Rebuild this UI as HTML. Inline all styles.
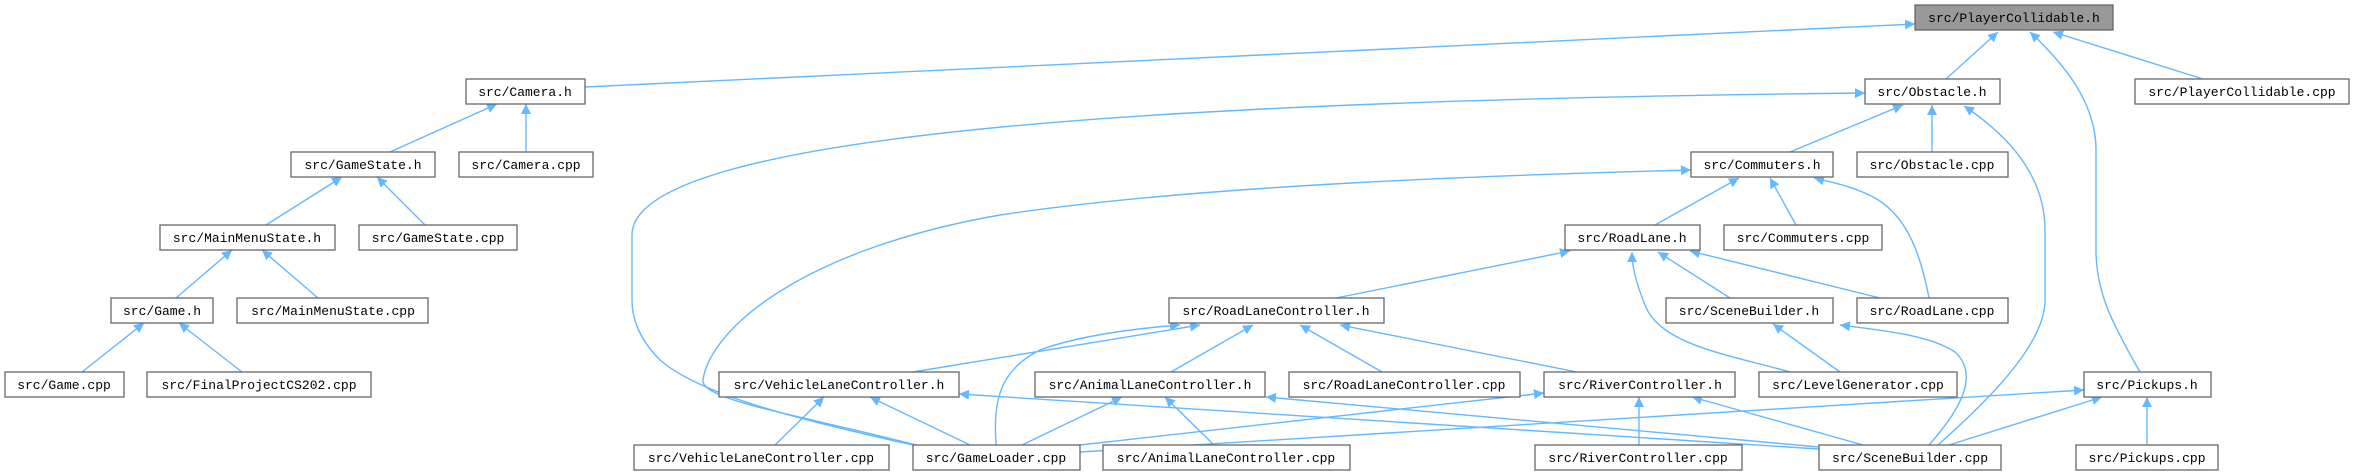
<!DOCTYPE html>
<html><head><meta charset="utf-8"><style>
html,body{margin:0;padding:0;background:#fff;}
svg{display:block}
text{font-family:"Liberation Mono","DejaVu Sans Mono",monospace;font-size:13px;fill:#000}
rect{fill:#fff;stroke:#666;stroke-width:1.3}
.e{fill:none;stroke:#63b8ff;stroke-width:1.4}
</style></head><body>
<svg width="2355" height="476" viewBox="0 0 2355 476" xmlns="http://www.w3.org/2000/svg">
<defs><marker id="a" viewBox="0 0 10 10" refX="10" refY="5" markerWidth="10" markerHeight="10" markerUnits="userSpaceOnUse" orient="auto"><path d="M0,0 L10,5 L0,10 z" fill="#63b8ff"/></marker></defs>
<g class="e" marker-end="url(#a)">
<path d="M585,87 L1915,24" marker-end="url(#a)"/>
<path d="M390,152 L497,104" marker-end="url(#a)"/>
<path d="M526,152 L526,104" marker-end="url(#a)"/>
<path d="M266,225 L342,177" marker-end="url(#a)"/>
<path d="M425,225 L377,177" marker-end="url(#a)"/>
<path d="M176,298 L232,250" marker-end="url(#a)"/>
<path d="M318,298 L262,250" marker-end="url(#a)"/>
<path d="M82,372 L144,323" marker-end="url(#a)"/>
<path d="M242,372 L179,323" marker-end="url(#a)"/>
<path d="M913,372 L1200,325" marker-end="url(#a)"/>
<path d="M996,445 C993,400 1000,370 1040,350 C1080,335 1140,328 1180,325" marker-end="url(#a)"/>
<path d="M1171,372 L1253,325" marker-end="url(#a)"/>
<path d="M1382,372 L1300,325" marker-end="url(#a)"/>
<path d="M1577,372 L1340,325" marker-end="url(#a)"/>
<path d="M1336,298 L1570,251" marker-end="url(#a)"/>
<path d="M775,445 L824,397" marker-end="url(#a)"/>
<path d="M970,445 L870,397" marker-end="url(#a)"/>
<path d="M1022,445 L1122,397" marker-end="url(#a)"/>
<path d="M1214,445 L1165,397" marker-end="url(#a)"/>
<path d="M1819,449 L959,394" marker-end="url(#a)"/>
<path d="M1819,447 L1266,397" marker-end="url(#a)"/>
<path d="M1080,445 L1544,393" marker-end="url(#a)"/>
<path d="M1080,452 L2084,390" marker-end="url(#a)"/>
<path d="M1639,445 L1639,397" marker-end="url(#a)"/>
<path d="M1863,445 L1692,397" marker-end="url(#a)"/>
<path d="M1949,445 L2102,397" marker-end="url(#a)"/>
<path d="M2147,445 L2147,397" marker-end="url(#a)"/>
<path d="M1840,372 L1773,324" marker-end="url(#a)"/>
<path d="M1929,445 C1960,410 1980,375 1955,352 C1930,335 1880,330 1840,325" marker-end="url(#a)"/>
<path d="M1938,445 C2000,390 2045,340 2045,300 L2045,230 C2045,170 2000,130 1964,106" marker-end="url(#a)"/>
<path d="M1790,372 C1730,355 1660,345 1645,305 C1635,280 1632,265 1632,252" marker-end="url(#a)"/>
<path d="M1730,298 L1658,252" marker-end="url(#a)"/>
<path d="M1880,298 L1690,251" marker-end="url(#a)"/>
<path d="M1655,225 L1739,178" marker-end="url(#a)"/>
<path d="M1796,225 L1770,178" marker-end="url(#a)"/>
<path d="M1929,298 C1920,250 1905,215 1875,198 C1855,187 1835,183 1814,178" marker-end="url(#a)"/>
<path d="M1790,152 L1903,105" marker-end="url(#a)"/>
<path d="M1932,152 L1932,105" marker-end="url(#a)"/>
<path d="M1946,79 L1998,32" marker-end="url(#a)"/>
<path d="M2203,79 L2053,32" marker-end="url(#a)"/>
<path d="M2140,372 C2110,320 2096,290 2096,250 L2096,150 C2096,100 2060,60 2030,32" marker-end="url(#a)"/>
<path d="M913,445 C800,420 700,395 660,360 C640,340 632,320 632,300 L632,235 C632,130 1200,100 1865,93" marker-end="url(#a)"/>
<path d="M916,445 C800,415 700,400 703,380 C710,330 800,250 1000,215 C1200,185 1500,175 1691,170" marker-end="url(#a)"/>
</g>
<g>
<rect x="1915" y="5" width="198" height="25" style="fill:#999"/><text x="2014" y="22" text-anchor="middle">src/PlayerCollidable.h</text>
<rect x="466" y="79" width="119" height="25"/><text x="525" y="96" text-anchor="middle">src/Camera.h</text>
<rect x="1865" y="79" width="135" height="25"/><text x="1932" y="96" text-anchor="middle">src/Obstacle.h</text>
<rect x="2135" y="79" width="214" height="25"/><text x="2242" y="96" text-anchor="middle">src/PlayerCollidable.cpp</text>
<rect x="291" y="152" width="144" height="25"/><text x="363" y="169" text-anchor="middle">src/GameState.h</text>
<rect x="459" y="152" width="134" height="25"/><text x="526" y="169" text-anchor="middle">src/Camera.cpp</text>
<rect x="1691" y="152" width="142" height="25"/><text x="1762" y="169" text-anchor="middle">src/Commuters.h</text>
<rect x="1857" y="152" width="151" height="25"/><text x="1932" y="169" text-anchor="middle">src/Obstacle.cpp</text>
<rect x="160" y="225" width="175" height="25"/><text x="247" y="242" text-anchor="middle">src/MainMenuState.h</text>
<rect x="359" y="225" width="158" height="25"/><text x="438" y="242" text-anchor="middle">src/GameState.cpp</text>
<rect x="1565" y="225" width="135" height="25"/><text x="1632" y="242" text-anchor="middle">src/RoadLane.h</text>
<rect x="1724" y="225" width="158" height="25"/><text x="1803" y="242" text-anchor="middle">src/Commuters.cpp</text>
<rect x="111" y="298" width="102" height="25"/><text x="162" y="315" text-anchor="middle">src/Game.h</text>
<rect x="237" y="298" width="191" height="25"/><text x="333" y="315" text-anchor="middle">src/MainMenuState.cpp</text>
<rect x="1169" y="298" width="215" height="25"/><text x="1276" y="315" text-anchor="middle">src/RoadLaneController.h</text>
<rect x="1666" y="298" width="167" height="25"/><text x="1749" y="315" text-anchor="middle">src/SceneBuilder.h</text>
<rect x="1857" y="298" width="151" height="25"/><text x="1932" y="315" text-anchor="middle">src/RoadLane.cpp</text>
<rect x="5" y="372" width="119" height="25"/><text x="64" y="389" text-anchor="middle">src/Game.cpp</text>
<rect x="147" y="372" width="224" height="25"/><text x="259" y="389" text-anchor="middle">src/FinalProjectCS202.cpp</text>
<rect x="719" y="372" width="240" height="25"/><text x="839" y="389" text-anchor="middle">src/VehicleLaneController.h</text>
<rect x="1035" y="372" width="230" height="25"/><text x="1150" y="389" text-anchor="middle">src/AnimalLaneController.h</text>
<rect x="1289" y="372" width="231" height="25"/><text x="1404" y="389" text-anchor="middle">src/RoadLaneController.cpp</text>
<rect x="1544" y="372" width="191" height="25"/><text x="1640" y="389" text-anchor="middle">src/RiverController.h</text>
<rect x="1759" y="372" width="198" height="25"/><text x="1858" y="389" text-anchor="middle">src/LevelGenerator.cpp</text>
<rect x="2084" y="372" width="127" height="25"/><text x="2147" y="389" text-anchor="middle">src/Pickups.h</text>
<rect x="634" y="445" width="255" height="25"/><text x="761" y="462" text-anchor="middle">src/VehicleLaneController.cpp</text>
<rect x="913" y="445" width="167" height="25"/><text x="996" y="462" text-anchor="middle">src/GameLoader.cpp</text>
<rect x="1103" y="445" width="247" height="25"/><text x="1226" y="462" text-anchor="middle">src/AnimalLaneController.cpp</text>
<rect x="1535" y="445" width="207" height="25"/><text x="1638" y="462" text-anchor="middle">src/RiverController.cpp</text>
<rect x="1819" y="445" width="182" height="25"/><text x="1910" y="462" text-anchor="middle">src/SceneBuilder.cpp</text>
<rect x="2076" y="445" width="142" height="25"/><text x="2147" y="462" text-anchor="middle">src/Pickups.cpp</text>
</g>
</svg>
</body></html>
